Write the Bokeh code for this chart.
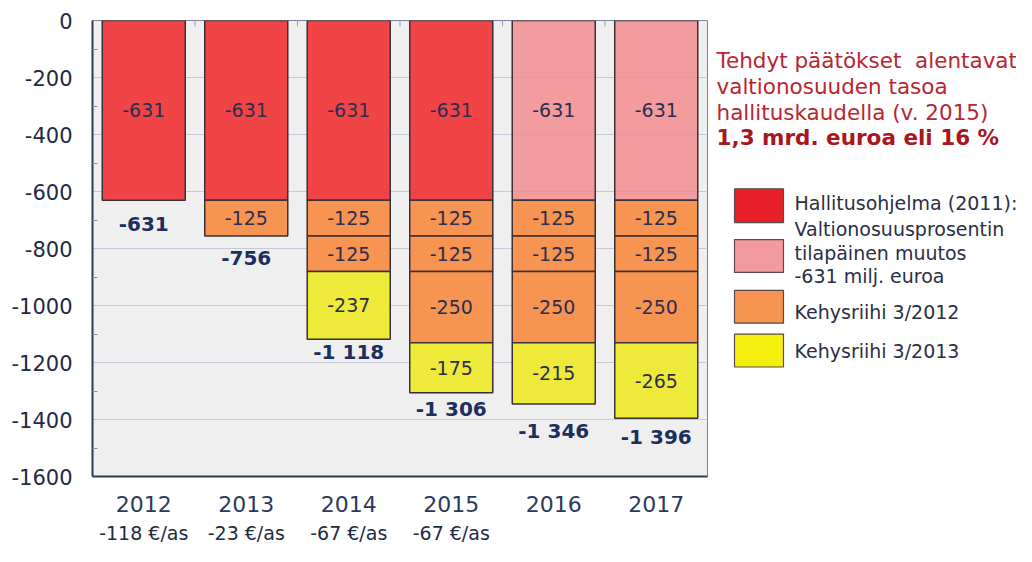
import math
from bokeh.plotting import figure
from bokeh.layouts import row
from bokeh.models import Range1d, FixedTicker, LinearAxis, ColumnDataSource
from bokeh.core.properties import value
from bokeh.embed import file_html
from bokeh.resources import INLINE

# ---------------- data ----------------
years = ["2012", "2013", "2014", "2015", "2016", "2017"]
hallitus = [-631, -631, -631, -631, 0, 0]
hallitus_temp = [0, 0, 0, 0, -631, -631]
kehys_2012 = [[], [-125], [-125, -125], [-125, -125, -250], [-125, -125, -250], [-125, -125, -250]]
kehys_2013 = [0, 0, -237, -175, -215, -265]
totals = [-631, -756, -1118, -1306, -1346, -1396]
total_labels = ["-631", "-756", "-1 118", "-1 306", "-1 346", "-1 396"]
per_capita = ["-118 €/as", "-23 €/as", "-67 €/as", "-67 €/as", " ", " "]
y_ticks = [0, -200, -400, -600, -800, -1000, -1200, -1400, -1600]
y_tick_labels = ["0", "-200", "-400", "-600", "-800", "-1000", "-1200", "-1400", "-1600"]
title_lines = ["Tehdyt päätökset \u00a0alentavat", "valtionosuuden tasoa", "hallituskaudella (v. 2015)"]
title_bold = "1,3 mrd. euroa eli 16 %"
legend_lines = ["Hallitusohjelma (2011):", "Valtionosuusprosentin", "tilapäinen muutos",
                "-631 milj. euroa", "Kehysriihi 3/2012", "Kehysriihi 3/2013"]

FONT = "DejaVu Sans"
RED, PINK, ORANGE, YELLOW = "#f04447", "#f48a8c", "#f79451", "#eeea3a"
L_RED, L_PINK, L_ORANGE, L_YELLOW = "#e8202a", "#f29a9c", "#f79451", "#f5ef10"

# ---------------- segments ----------------
seg = dict(x=[], top=[], bottom=[], color=[], alpha=[], mid=[], label=[])
for i in range(len(years)):
    pieces = []
    if hallitus[i]:
        pieces.append((hallitus[i], RED, 1.0))
    if hallitus_temp[i]:
        pieces.append((hallitus_temp[i], PINK, 0.82))
    for v in kehys_2012[i]:
        pieces.append((v, ORANGE, 1.0))
    if kehys_2013[i]:
        pieces.append((kehys_2013[i], YELLOW, 1.0))
    base = 0
    for v, c, a in pieces:
        seg["x"].append(i + 0.5)
        seg["top"].append(base)
        seg["bottom"].append(base + v)
        seg["color"].append(c)
        seg["alpha"].append(a)
        seg["mid"].append(base + v / 2)
        seg["label"].append(str(v))
        base += v
src = ColumnDataSource(seg)

xc = [i + 0.5 for i in range(len(years))]

p = figure(width=708, height=546, x_range=Range1d(0, len(years)), y_range=Range1d(-1600, 0),
           toolbar_location=None, output_backend="svg",
           min_border_left=92, min_border_top=20, min_border_right=1, min_border_bottom=68)
p.background_fill_color = "#efefef"
p.border_fill_color = "white"
p.outline_line_color = "#7c82a0"
p.xgrid.visible = False
p.ygrid.grid_line_color = "#c5c8d6"
p.ygrid.grid_line_width = 1

# small separator ticks hanging from the top edge
p.ray(x=list(range(1, len(years))), y=[0] * (len(years) - 1), length=6, length_units="screen",
      angle=-math.pi / 2, line_color="#9aa0b0", line_width=1)

p.vbar(x="x", top="top", bottom="bottom", width=0.81, source=src,
       fill_color="color", fill_alpha="alpha", line_color="#3a3036", line_width=1.5)
p.text(x="x", y="mid", text="label", source=src, text_align="center", text_baseline="middle",
       text_font=value(FONT), text_font_size="19px", text_color="#2d2d4f")

tsrc = ColumnDataSource(dict(x=xc, y=totals, t=total_labels, off=[24, 22, 13, 16, 27, 19]))
p.text(x="x", y="y", text="t", y_offset="off", source=tsrc, text_align="center",
       text_baseline="middle", text_font=value(FONT), text_font_size="20px",
       text_font_style="bold", text_color="#1c2f5e")

# left axis
p.yaxis.ticker = FixedTicker(ticks=y_ticks, minor_ticks=[t - 100 for t in y_ticks[:-1]])
p.yaxis.major_label_overrides = {t: s for t, s in zip(y_ticks, y_tick_labels)}
p.yaxis.major_label_text_font = FONT
p.yaxis.major_label_text_font_size = "21px"
p.yaxis.major_label_text_color = "#1f2a44"
p.yaxis.major_label_standoff = 20
p.yaxis.major_tick_out = 0
p.yaxis.major_tick_in = 0
p.yaxis.minor_tick_in = 5
p.yaxis.minor_tick_out = 0
p.yaxis.minor_tick_line_color = "#8890a8"
p.yaxis.axis_line_color = "#2e3a58"
p.yaxis.axis_line_width = 2

# bottom axis: years
p.xaxis.ticker = FixedTicker(ticks=xc)
p.xaxis.major_label_overrides = {x: y for x, y in zip(xc, years)}
p.xaxis.major_label_text_font = FONT
p.xaxis.major_label_text_font_size = "22px"
p.xaxis.major_label_text_color = "#2b3a5a"
p.xaxis.major_label_standoff = 19
p.xaxis.major_tick_out = 0
p.xaxis.major_tick_in = 0
p.xaxis.minor_tick_line_color = None
p.xaxis.axis_line_color = "#2e3a58"
p.xaxis.axis_line_width = 2

# second bottom axis: per capita
ax2 = LinearAxis(ticker=FixedTicker(ticks=xc),
                 major_label_overrides={x: s for x, s in zip(xc, per_capita)})
ax2.major_label_text_font = FONT
ax2.major_label_text_font_size = "19px"
ax2.major_label_text_color = "#1f2a44"
ax2.major_label_standoff = 7
ax2.major_tick_out = 0
ax2.major_tick_in = 0
ax2.minor_tick_line_color = None
ax2.axis_line_color = None
p.add_layout(ax2, "below")

# ---------------- side panel (frame aligned with main frame: y 20..478) ----------------
p2 = figure(width=308, height=546, x_range=Range1d(708, 1016), y_range=Range1d(478, 20),
            toolbar_location=None, output_backend="svg",
            min_border_left=0, min_border_right=0, min_border_top=20, min_border_bottom=68,
            x_axis_type=None, y_axis_type=None)
p2.grid.visible = False
p2.outline_line_color = None
p2.background_fill_color = "white"
p2.border_fill_color = "white"

p2.text(x=[716] * 3, y=[60, 86, 112], text=title_lines, text_baseline="middle",
        text_font=value(FONT), text_font_size="21.5px", text_color="#b8262f")
p2.text(x=[716], y=[138], text=[title_bold], text_baseline="middle",
        text_font=value(FONT), text_font_size="21.5px", text_font_style="bold", text_color="#a91520")

p2.quad(left=[734] * 4, right=[783] * 4, top=[189, 240, 291, 335], bottom=[223, 273, 324, 368],
        fill_color=[L_RED, L_PINK, L_ORANGE, L_YELLOW], line_color="#5a4a4a", line_width=1.2)
p2.text(x=[794] * 6, y=[203, 229, 254, 277, 313, 352], text=legend_lines, text_baseline="middle",
        text_font=value(FONT), text_font_size="19px", text_color="#2a2f45")

layout = row(p, p2)
open("out.html", "w").write(file_html(layout, INLINE))
